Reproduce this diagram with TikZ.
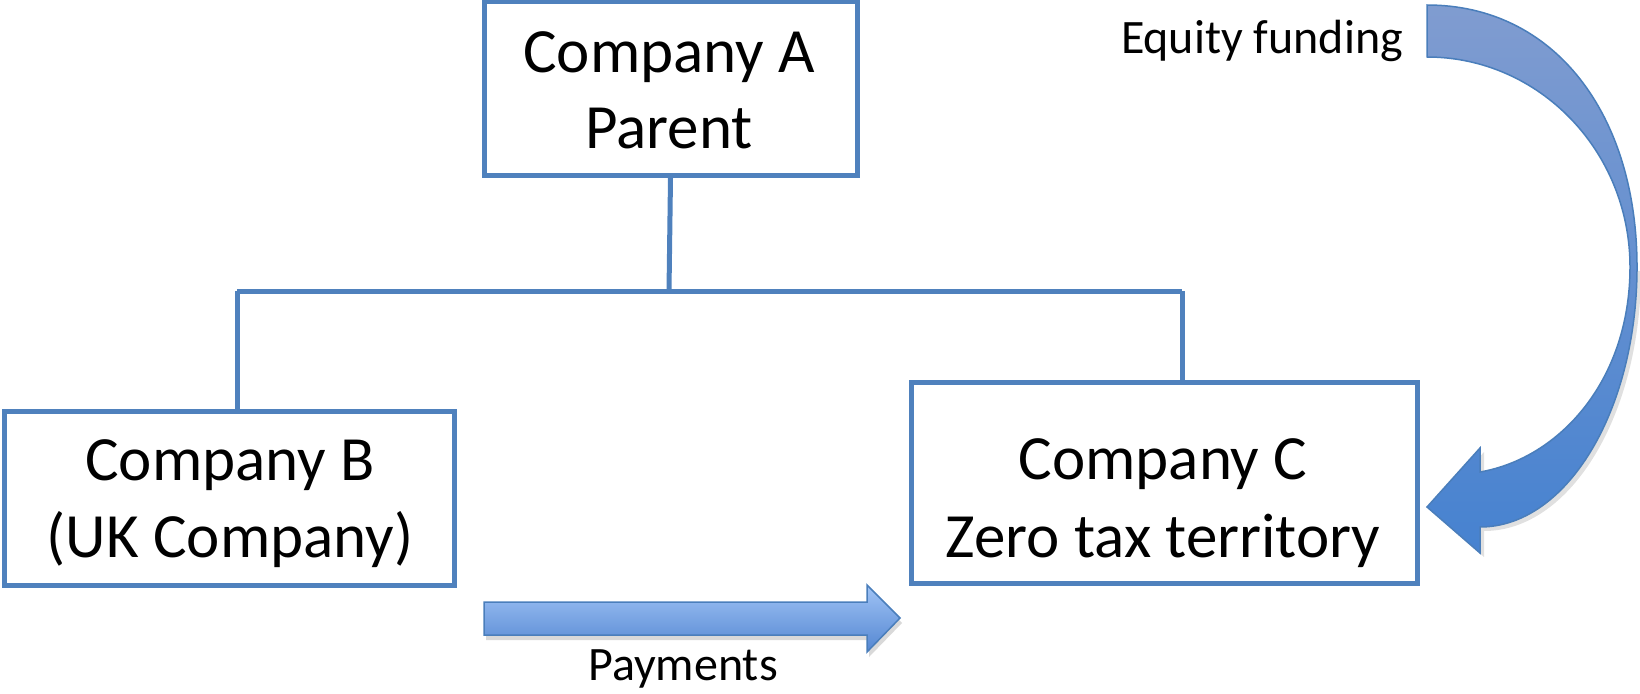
\documentclass[tikz,border=0pt]{standalone}
\usepackage{fontspec}
\setmainfont{Carlito}
\begin{document}
\begin{tikzpicture}[x=1pt,y=-1pt,
  orgbox/.style={draw=boxblue,line width=5pt,fill=white,rectangle,inner sep=0pt},
  tree/.style={draw=boxblue,line width=5pt},
  bigtext/.style={anchor=base,inner sep=0pt,font=\fontsize{63}{76}\selectfont},
  smalltext/.style={anchor=base,inner sep=0pt,font=\fontsize{48}{58}\selectfont},
  arrowfill/.style={draw=arrowedge,line width=1.5pt,line join=miter}]
\definecolor{boxblue}{RGB}{79,129,189}
\definecolor{arrowedge}{RGB}{74,126,187}
\definecolor{paytop}{RGB}{160,195,245}
\definecolor{paybot}{RGB}{84,135,210}
\definecolor{eqtop}{RGB}{128,156,208}
\definecolor{eqmid}{RGB}{106,142,204}
\definecolor{eqbot}{RGB}{70,130,208}
\useasboundingbox (0,0) rectangle (1640,693);

% company boxes
\node[orgbox,minimum width=373pt,minimum height=173pt] (A) at (670.5,88.5) {};
\node[orgbox,minimum width=450pt,minimum height=174pt] (B) at (229,498) {};
\node[orgbox,minimum width=506pt,minimum height=201pt] (C) at (1164,482.5) {};

\node[bigtext] (A1) at (669,72) {Company A};
\node[bigtext] (A2) at (669,148) {Parent};
\node[bigtext] (B1) at (230,480) {Company B};
\node[bigtext] (B2) at (230,557) {(UK Company)};
\node[bigtext] (C1) at (1163,479) {Company C};
\node[bigtext] (C2) at (1163,557) {Zero tax territory};

% ownership tree
\coordinate (J) at (669,291);
\coordinate (JL) at (237,291);
\coordinate (JR) at (1182,291);
\draw[tree] (A.south) -- (J);
\draw[tree] (JL) -- (JR);
\draw[tree] (JL) -- (JL |- B.north);
\draw[tree] (JR) -- (JR |- C.north);

% payments arrow
\fill[black,opacity=0.15] (486,607) -- (869,607) -- (869,590) -- (902,623) -- (869,657) -- (869,640) -- (486,640) -- cycle;
\node[inner sep=0pt,minimum size=0pt] (P0) at (484,618) {};
\node[inner sep=0pt,minimum size=0pt] (P1) at (900,618) {};
\shade[top color=paytop,bottom color=paybot,arrowfill]
  (P0.center) -- (484,602) -- (867,602) -- (867,585) -- (P1.center)
  -- (867,652) -- (867,635) -- (484,635) -- cycle;
\node[smalltext] (pay) at (683,680) {Payments};

% equity funding curved arrow
\node[inner sep=0pt,minimum size=0pt] (E0) at (1427,31) {};
\node[inner sep=0pt,minimum size=0pt] (E1) at (1427,507) {};
\fill[black,opacity=0.12]
  (1484,531) .. controls (1571,531) and (1641,414) .. (1641,271)
  -- (1634,271) .. controls (1634,384) and (1567,462) .. (1484,476)
  -- (1484,452) -- (1431,511) -- (1484,557) -- cycle;
\shade[top color=eqtop,middle color=eqmid,bottom color=eqbot,arrowfill]
  (1427,5) .. controls (1555,5) and (1637,115) .. (1637,267)
  .. controls (1637,410) and (1567,527) .. (1480,527)
  -- (1480,553) -- (E1.center) -- (1480,448) -- (1480,472)
  .. controls (1560,458) and (1630,380) .. (1630,267)
  .. controls (1630,151) and (1539,57) .. (1427,57) -- cycle;
\node[smalltext] (eq) at (1262,54) {Equity funding};
\end{tikzpicture}
\end{document}
